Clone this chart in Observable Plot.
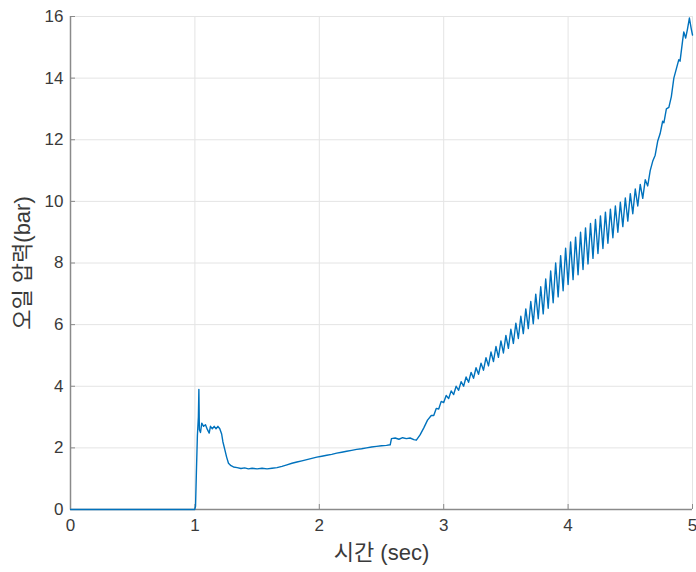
<!DOCTYPE html>
<html>
<head>
<meta charset="utf-8">
<script src="https://cdn.jsdelivr.net/npm/d3@7"></script>
<script src="https://cdn.jsdelivr.net/npm/@observablehq/plot@0.6"></script>
<style>
  html, body { margin: 0; padding: 0; background: #fff; }
  #chart { width: 696px; height: 572px; }
</style>
</head>
<body>
<div id="chart"></div>
<script>
const xLabel = "시간 (sec)";
const yLabel = "오일 압력(bar)";
const xTicks = [0, 1, 2, 3, 4, 5];
const yTicks = [0, 2, 4, 6, 8, 10, 12, 14, 16];

const time = [
  0, 0.998, 1.005, 1.012, 1.02, 1.028, 1.032, 1.036, 1.045, 1.055, 1.07, 1.085, 1.1, 1.115, 1.125, 1.14, 1.155, 1.17, 1.185, 1.2,
  1.215, 1.225, 1.24, 1.255, 1.27, 1.29, 1.31, 1.34, 1.37, 1.4, 1.43, 1.46, 1.5, 1.54, 1.58, 1.62, 1.66, 1.7, 1.74, 1.78,
  1.82, 1.86, 1.9, 1.94, 1.98, 2.02, 2.06, 2.1, 2.14, 2.18, 2.22, 2.26, 2.3, 2.34, 2.38, 2.42, 2.46, 2.5, 2.54, 2.57,
  2.58, 2.61, 2.64, 2.67, 2.7, 2.73, 2.76, 2.78, 2.81, 2.84, 2.87,
  2.90, 2.92, 2.94, 2.96, 2.98, 3.00, 3.02, 3.04, 3.06, 3.08, 3.10, 3.12, 3.14, 3.16, 3.18, 3.20, 3.22, 3.24, 3.26, 3.28,
  3.30, 3.32, 3.34, 3.36, 3.38, 3.40, 3.42, 3.44, 3.46, 3.48, 3.50, 3.52, 3.54, 3.56, 3.58, 3.60, 3.62, 3.64, 3.66, 3.68,
  3.70, 3.72, 3.74, 3.76, 3.78, 3.80, 3.82, 3.84, 3.86, 3.88, 3.90, 3.92, 3.94, 3.96, 3.98, 4.00, 4.02, 4.04, 4.06, 4.08,
  4.10, 4.12, 4.14, 4.16, 4.18, 4.20, 4.22, 4.24, 4.26, 4.28, 4.30, 4.32, 4.34, 4.36, 4.38, 4.40, 4.42, 4.44, 4.46, 4.48,
  4.50, 4.52, 4.54, 4.56, 4.58, 4.60, 4.62, 4.64, 4.66, 4.68, 4.70, 4.72, 4.74, 4.76, 4.77, 4.79, 4.81, 4.83, 4.85, 4.87,
  4.89, 4.90, 4.92, 4.93, 4.945, 4.96, 4.975, 4.99, 5.0
];
const pressure = [
  0, 0, 0.1, 1.2, 2.4, 3.0, 3.9, 2.6, 2.5, 2.8, 2.7, 2.75, 2.6, 2.48, 2.7, 2.62, 2.7, 2.62, 2.7, 2.62,
  2.45, 2.2, 1.95, 1.7, 1.5, 1.42, 1.38, 1.36, 1.33, 1.35, 1.32, 1.34, 1.32, 1.34, 1.32, 1.34, 1.36, 1.4, 1.45, 1.5,
  1.54, 1.58, 1.62, 1.66, 1.7, 1.73, 1.76, 1.79, 1.83, 1.86, 1.89, 1.92, 1.95, 1.97, 2.0, 2.03, 2.05, 2.07, 2.08, 2.1,
  2.3, 2.32, 2.28, 2.33, 2.3, 2.32, 2.27, 2.25, 2.42, 2.65, 2.9,
  3.05, 3.05, 3.28, 3.26, 3.51, 3.47, 3.70, 3.60, 3.85, 3.73, 4.00, 3.87, 4.15, 4.00, 4.30, 4.13, 4.45, 4.26, 4.60, 4.39,
  4.75, 4.52, 4.93, 4.66, 5.11, 4.80, 5.29, 4.94, 5.47, 5.08, 5.65, 5.23, 5.85, 5.39, 6.05, 5.55, 6.27, 5.71, 6.51, 5.87,
  6.75, 6.03, 6.99, 6.19, 7.23, 6.35, 7.48, 6.53, 7.74, 6.71, 8.00, 6.90, 8.24, 7.10, 8.48, 7.30, 8.68, 7.46, 8.84, 7.62,
  9.00, 7.79, 9.14, 7.97, 9.28, 8.15, 9.41, 8.31, 9.53, 8.47, 9.65, 8.64, 9.75, 8.82, 9.85, 9.00, 9.97, 9.18, 10.11, 9.36,
  10.25, 9.60, 10.40, 9.85, 10.55, 10.10, 10.70, 10.50, 11.0, 11.3, 11.5, 11.95, 12.2, 12.6, 12.55, 13.0, 13.05, 13.4, 14.0, 14.3,
  14.6, 14.55, 15.2, 15.5, 15.3, 15.6, 15.95, 15.6, 15.4
];

const data = time.map((t, i) => ({t, p: pressure[i]}));

const axisColor = "#8a8a8a";
const gridColor = "#e4e4e4";
const textColor = "#3a3a3a";
const font = "'Liberation Sans', Arial, 'Noto Sans CJK KR', sans-serif";

const chart = Plot.plot({
  width: 696,
  height: 572,
  marginLeft: 70,
  marginRight: 4,
  marginTop: 16,
  marginBottom: 63,
  style: {fontFamily: font, fontSize: "17px", color: textColor, background: "#fff", overflow: "visible"},
  x: {domain: [0, 5]},
  y: {domain: [0, 16]},
  marks: [
    Plot.gridX(xTicks, {stroke: gridColor, strokeOpacity: 1}),
    Plot.gridY(yTicks, {stroke: gridColor, strokeOpacity: 1}),
    Plot.ruleX([0], {stroke: axisColor, strokeWidth: 1.5}),
    Plot.ruleY([0], {stroke: axisColor, strokeWidth: 1.5}),
    Plot.axisX(xTicks, {tickSize: -5, tickPadding: 14, tickFormat: d3.format("d"), stroke: axisColor, fill: textColor, label: null}),
    Plot.axisY(yTicks, {tickSize: -5, tickPadding: 12, tickFormat: d3.format("d"), stroke: axisColor, fill: textColor, label: null}),
    Plot.line(data, {x: "t", y: "p", stroke: "#0072BD", strokeWidth: 1.4}),
    Plot.text([xLabel], {frameAnchor: "bottom", dy: 50, text: d => d, fontSize: 22, fill: textColor, fontFamily: font}),
    Plot.text([yLabel], {frameAnchor: "left", textAnchor: "middle", dx: -48, rotate: -90, text: d => d, fontSize: 22, fill: textColor, fontFamily: font})
  ]
});
document.getElementById("chart").appendChild(chart);
</script>
</body>
</html>
